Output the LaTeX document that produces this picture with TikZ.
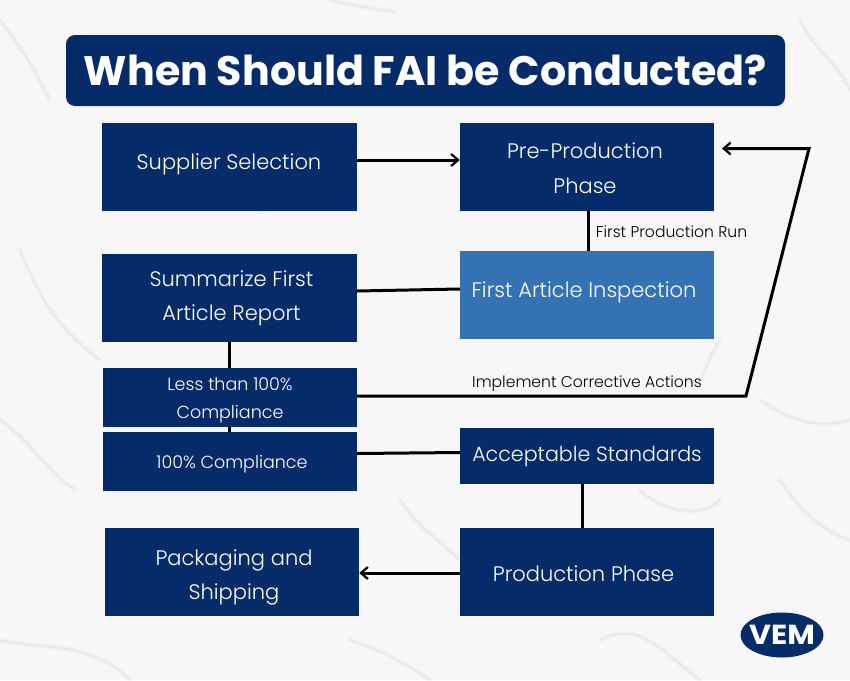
\documentclass[tikz,border=0pt]{standalone}
\usepackage{fontspec}
\usetikzlibrary{arrows.meta,shapes.geometric}
\setmainfont{Poppins Light}
\newfontfamily\titlef{Poppins}
\definecolor{navy}{HTML}{052C69}
\definecolor{midblue}{HTML}{3572B3}
\definecolor{bgm}{HTML}{F7F7F7}
\definecolor{vein}{HTML}{CCCCCC}
\tikzset{
  x=1pt,y=-1pt,
  stepbox/.style={fill=navy,inner sep=0pt,minimum width=254pt,minimum height=88pt},
  shortbox/.style={stepbox,minimum height=59pt},
  bigtext/.style={text=white,inner sep=0pt,align=center,font=\fontsize{21}{34.5}\selectfont},
  smalltext/.style={bigtext,font=\fontsize{17.5}{28}\selectfont},
  link/.style={line width=3pt,draw=black},
  arrowlink/.style={link,-{Straight Barb[length=7pt,width=12pt,line width=2.2pt]}},
  tag/.style={font=\fontsize{15.6}{18}\selectfont,text=black,inner sep=0pt},
  veinl/.style={draw=vein,line width=1pt,line cap=round,opacity=.3},
  veinw/.style={draw=vein,line width=5pt,line cap=round,opacity=.12}
}
\newcommand{\marble}[1]{\draw[veinw] #1; \draw[veinl] #1;}
\begin{document}
\begin{tikzpicture}
\useasboundingbox (0,0) rectangle (850,680);
\fill[bgm] (0,0) rectangle (850,680);
% veins of the marble
\marble{(0,420) .. controls (30,440) and (45,470) .. (75,490)}
\marble{(258,212) .. controls (290,205) and (320,190) .. (342,170)}
\marble{(0,20) .. controls (15,40) and (30,60) .. (50,100)}
\marble{(330,0) .. controls (350,5) and (370,8) .. (395,12)}
\marble{(800,20) .. controls (815,50) and (835,60) .. (850,90)}
\marble{(720,340) .. controls (700,370) and (705,390) .. (690,380)}
\marble{(20,250) .. controls (40,300) and (60,330) .. (100,360)}
\marble{(640,490) .. controls (660,510) and (700,520) .. (720,500)}
\marble{(400,500) .. controls (420,530) and (440,540) .. (460,560)}
\marble{(600,640) .. controls (640,620) and (660,650) .. (700,680)}
\marble{(0,640) .. controls (40,650) and (90,640) .. (130,680)}
\marble{(350,640) .. controls (380,650) and (400,660) .. (430,680)}
\marble{(780,480) .. controls (800,510) and (820,530) .. (850,540)}
\marble{(760,400) .. controls (790,420) and (820,430) .. (850,420)}

% title
\node[fill=navy,rounded corners=9pt,minimum width=719pt,minimum height=71pt,inner sep=0pt,text=white,
  font=\fontsize{41.2}{50}\selectfont\titlef\bfseries] (title) at (425.5,70.5) {When Should FAI be Conducted?};

% boxes, with their texts placed where the reference has them
\node[stepbox,minimum width=255pt,label={[bigtext,xshift=-0.5pt,yshift=3pt]center:Supplier Selection}] (supplier) at (229.5,167) {};
\node[stepbox,label={[bigtext,xshift=-2pt,yshift=-1pt]center:Pre-Production\\Phase}] (preprod) at (587,167) {};
\node[stepbox,minimum width=255pt,label={[bigtext,xshift=2pt,yshift=-0.5pt]center:Summarize First\\Article Report}] (summ) at (229.5,298) {};
\node[stepbox,fill=midblue,label={[bigtext,xshift=-3pt,yshift=3pt]center:First Article Inspection}] (fai) at (587,295) {};
\node[shortbox,label={[smalltext,yshift=-3pt]center:Less than 100\%\\Compliance}] (less) at (230,397.5) {};
\node[shortbox,label={[smalltext,xshift=2pt,yshift=-3pt]center:100\% Compliance}] (full) at (230,461.5) {};
\node[stepbox,minimum height=56pt,label={[bigtext,yshift=-1pt,font=\fontsize{20.6}{30}\selectfont]center:Acceptable Standards}] (accept) at (587,456) {};
\node[stepbox,label={[bigtext,xshift=2pt,yshift=-5.5pt]center:Packaging and\\Shipping}] (pack) at (232,572) {};
\node[stepbox,label={[bigtext,xshift=-3.5pt,yshift=-2pt]center:Production Phase}] (prod) at (587,572) {};

% connectors
\draw[arrowlink] ([yshift=7pt]supplier.east) -- ([yshift=7pt]preprod.west);
\draw[link] ([xshift=1.5pt]preprod.south) -- ([xshift=1.5pt]fai.north);
\draw[link] ([yshift=7pt]summ.east) -- ([yshift=6pt]fai.west);
\draw[link] (summ.south) -- (less.north -| summ.south);
\draw[link] (less.south -| summ.south) -- (full.north -| summ.south);
\draw[link] ([yshift=8pt]full.east) -- ([yshift=3.5pt]accept.west);
\draw[link] ([xshift=-5pt]accept.south) -- ([xshift=-5pt]prod.north);
\draw[arrowlink] ([yshift=-1pt]prod.west) -- ([yshift=-1pt]pack.east);
\coordinate (turnA) at (746,396);
\coordinate (turnB) at (809,148.5);
\coordinate (entry) at (722,148.5);
\draw[arrowlink,line join=miter] ([yshift=1.5pt]less.east) -- (turnA) -- (turnB) -- (entry);

% edge labels
\node[tag] (lab1) at (671.5,231.5) {First Production Run};
\node[tag] (lab2) at (587,384) {Implement Corrective Actions};

% logo
\node[ellipse,fill=navy,minimum width=83pt,minimum height=45pt,inner sep=0pt,text=white,
  font=\fontsize{25}{25}\selectfont\titlef\bfseries] (logo) at (782,635) {\makebox[0pt]{\scalebox{1.2}[1.1]{VEM}}};
\end{tikzpicture}
\end{document}
